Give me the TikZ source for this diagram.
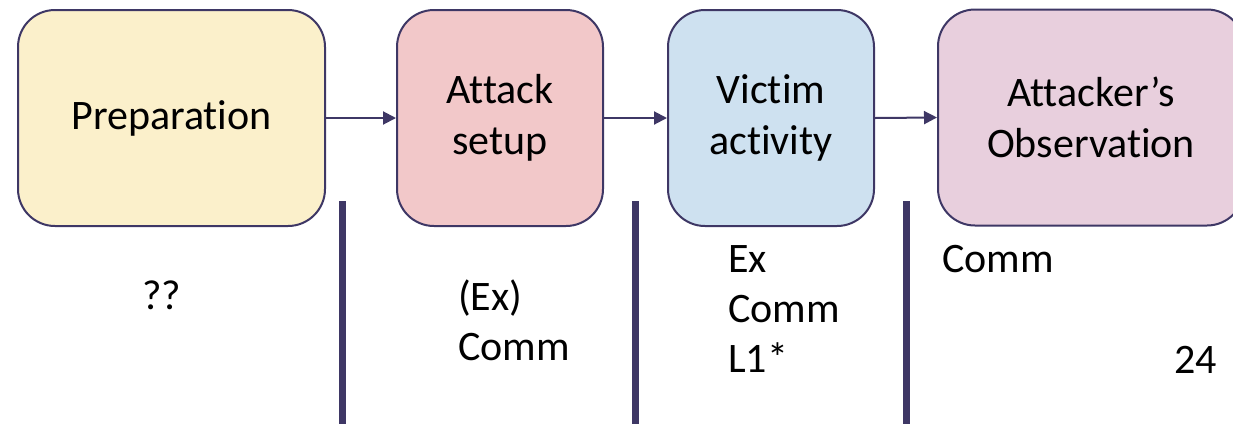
\documentclass[tikz,border=0pt]{standalone}
\usepackage{fontspec}
\setmainfont{Carlito}[Ligatures=NoCommon]
\usetikzlibrary{arrows.meta}

\definecolor{edgeink}{RGB}{62,55,101}
\definecolor{prepfill}{RGB}{251,240,203}
\definecolor{setupfill}{RGB}{242,200,201}
\definecolor{victimfill}{RGB}{206,225,240}
\definecolor{obsfill}{RGB}{232,207,221}

\tikzset{
  stage/.style={draw=edgeink, line width=2pt, rounded corners=37pt,
    minimum height=216pt, inner sep=0pt, align=center,
    font=\fontsize{42}{51}\selectfont},
  flow/.style={draw=edgeink, line width=2pt,
    -{Triangle[length=13pt,width=13pt]}},
  divider/.style={draw=edgeink, line width=7pt},
  note/.style={inner sep=0pt, align=left, anchor=base west,
    font=\fontsize{42}{50}\selectfont}
}

\begin{document}
\begin{tikzpicture}[x=1pt,y=-1pt]
  \useasboundingbox (0,0) rectangle (1233,424);
  \clip (0,0) rectangle (1233,424);

  % process stages
  \node[stage, fill=prepfill,   minimum width=307pt] (prep)   at (171.5,118) {Preparation};
  \node[stage, fill=setupfill,  minimum width=206pt] (setup)  at (500,118)   {Attack\\setup};
  \node[stage, fill=victimfill, minimum width=206pt] (victim) at (771,118)   {Victim\\activity};
  \node[stage, fill=obsfill,    minimum width=306pt] (obs)    at (1091,117.5) {Attacker’s\\Observation};

  % flow between stages
  \draw[flow] (prep.east) -- (setup.west);
  \draw[flow] (setup.east) -- (victim.west);
  \draw[flow] (victim.east) -- (obs.west);

  % column dividers
  \draw[divider] (342,201) -- (342,424);
  \draw[divider] (635.5,201) -- (635.5,424);
  \draw[divider] (906.5,201) -- (906.5,424);

  % column notes (a multi-line note sits on the baseline of its last line)
  \node[note, anchor=base] (qq) at (162,309) {??};
  \node[note] (setupnote)  at (458,360) {(Ex)\\Comm};
  \node[note] (victimnote) at (728,372) {Ex\\Comm\\L1*};
  \node[note] (obsnote)    at (942,272) {Comm};
  \node[note] (pagenum)    at (1174,373) {24};
\end{tikzpicture}
\end{document}
